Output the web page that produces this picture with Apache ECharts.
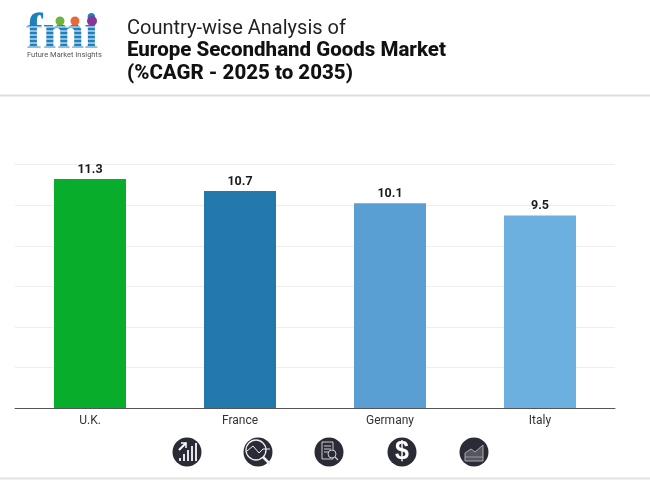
<!DOCTYPE html>
<html>
<head>
<meta charset="utf-8">
<style>
  html, body { margin: 0; padding: 0; background: #fff; }
  #chart { width: 650px; height: 480px; }
</style>
<script src="https://cdn.jsdelivr.net/npm/echarts@6/dist/echarts.min.js"></script>
</head>
<body>
<div id="chart"></div>
<script>
const countries = ["U.K.", "France", "Germany", "Italy"];
const cagrValues = [11.3, 10.7, 10.1, 9.5];
const barColors = ["#08AD2C", "#2379AC", "#5A9FD4", "#6CB0E0"];
const titleLines = ["Country-wise Analysis of", "Europe Secondhand Goods Market", "(%CAGR - 2025 to 2035)"];

const FONT = "Roboto";
const ICON_DARK = "#2B2B36";

// small decorative helpers for the logo and icon row
function line(x1, y1, x2, y2, color, width) {
  return { type: "line", shape: { x1, y1, x2, y2 }, style: { stroke: color, lineWidth: width } };
}
function rect(x, y, width, height, fill) {
  return { type: "rect", shape: { x, y, width, height }, style: { fill } };
}
function circle(cx, cy, r, fill, stroke) {
  return { type: "circle", shape: { cx, cy, r }, style: { fill, stroke, lineWidth: stroke ? 1 : 0 } };
}
function poly(points, stroke, width, fill) {
  return { type: "polyline", shape: { points }, style: { stroke, lineWidth: width, fill: fill || "none" } };
}

function logo() {
  const items = [
    { type: "text", x: 26, y: 10, style: { text: "fmi", font: "bold 50px 'Liberation Serif'", fill: "#1F80BE", letterSpacing: 3 } }
  ];
  for (let y = 27; y < 50; y += 4) items.push(line(26, y, 104, y, "#fff", 1));
  items.push(rect(26, 48, 80, 4, "#fff"));
  items.push(circle(60, 21, 4.5, "#6DB33F"), circle(75, 21, 4.5, "#E8683A"), circle(92, 21, 5, "#84379B"));
  items.push({ type: "text", x: 27, y: 51, style: { text: "Future Market Insights", font: "7.5px " + FONT, fill: "#555" } });
  return items;
}

function icons() {
  const items = [];
  [187, 258, 329, 402, 474].forEach((cx) => items.push(circle(cx, 452, 14.5, ICON_DARK)));
  // growth bars with arrow
  [[179, 3], [183, 7], [187, 11], [191, 15], [195, 18]].forEach((b) => items.push(rect(b[0], 461 - b[1], 2, b[1], "#E4E4E4")));
  items.push(line(179, 450, 186, 443, "#fff", 2), poly([[181, 443], [186, 443], [186, 448]], "#fff", 1.5));
  // magnifier over a trend line
  items.push(
    { type: "circle", shape: { cx: 256, cy: 450, r: 10 }, style: { fill: "none", stroke: "#eee", lineWidth: 1.3 } },
    poly([[247, 451], [253, 446], [259, 453], [263, 449], [270, 449]], "#eee", 1),
    line(263, 457, 270, 464, "#eee", 2.5)
  );
  // report page
  items.push(
    { type: "rect", shape: { x: 322, y: 442, width: 11, height: 17 }, style: { fill: "none", stroke: "#ccc", lineWidth: 1 } },
    line(324, 446, 331, 446, "#ccc", 1), line(324, 449, 331, 449, "#ccc", 1), line(324, 452, 329, 452, "#ccc", 1),
    { type: "circle", shape: { cx: 332, cy: 454, r: 4 }, style: { fill: ICON_DARK, stroke: "#ccc", lineWidth: 1 } },
    line(335, 457, 338, 460, "#ccc", 1.3)
  );
  // dollar
  items.push({ type: "text", x: 402, y: 452, style: { text: "$", font: "bold 25px 'Liberation Sans'", fill: "#fff", align: "center", verticalAlign: "middle" } });
  // area trend
  items.push(
    poly([[465, 461], [465, 453], [471, 449], [475, 452], [483, 445], [483, 461], [465, 461]], "#aaa", 1, "#55555F"),
    line(465, 457, 483, 457, "#aaa", 0.8)
  );
  return items;
}

const chart = echarts.init(document.getElementById("chart"), null, { renderer: "canvas" });
chart.setOption({
  animation: false,
  backgroundColor: "#fff",
  title: [
    { text: titleLines[0], left: 122, top: 14, textStyle: { fontFamily: FONT, fontSize: 20, fontWeight: 400, color: "#222" } },
    { text: titleLines[1], left: 122, top: 35, textStyle: { fontFamily: FONT, fontSize: 20.5, fontWeight: 800, color: "#111" } },
    { text: titleLines[2], left: 122, top: 58, textStyle: { fontFamily: FONT, fontSize: 20.5, fontWeight: 800, color: "#111" } }
  ],
  grid: { left: 15, right: 35, top: 164.7, bottom: 72 },
  xAxis: {
    type: "category",
    data: countries,
    axisTick: { show: false },
    axisLine: { lineStyle: { color: "#555", width: 1 } },
    axisLabel: { fontFamily: FONT, fontSize: 12, color: "#333", margin: 7 }
  },
  yAxis: {
    type: "value",
    min: 0,
    max: 12,
    interval: 2,
    axisLabel: { show: false },
    axisLine: { show: false },
    axisTick: { show: false },
    splitLine: { lineStyle: { color: "#EEEEEE", width: 1 } }
  },
  series: [{
    type: "bar",
    barWidth: 72,
    data: cagrValues.map((v, i) => ({ value: v, itemStyle: { color: barColors[i] } })),
    label: {
      show: true,
      position: "top",
      distance: 3,
      fontFamily: FONT,
      fontSize: 12.5,
      fontWeight: 700,
      color: "#1a1a1a",
      formatter: (p) => p.value.toFixed(1)
    }
  }],
  graphic: [
    line(0, 95.5, 650, 95.5, "#DDDDDD", 2),
    line(0, 478.5, 650, 478.5, "#E2E2E2", 2),
    ...logo(),
    ...icons()
  ]
});
</script>
</body>
</html>
